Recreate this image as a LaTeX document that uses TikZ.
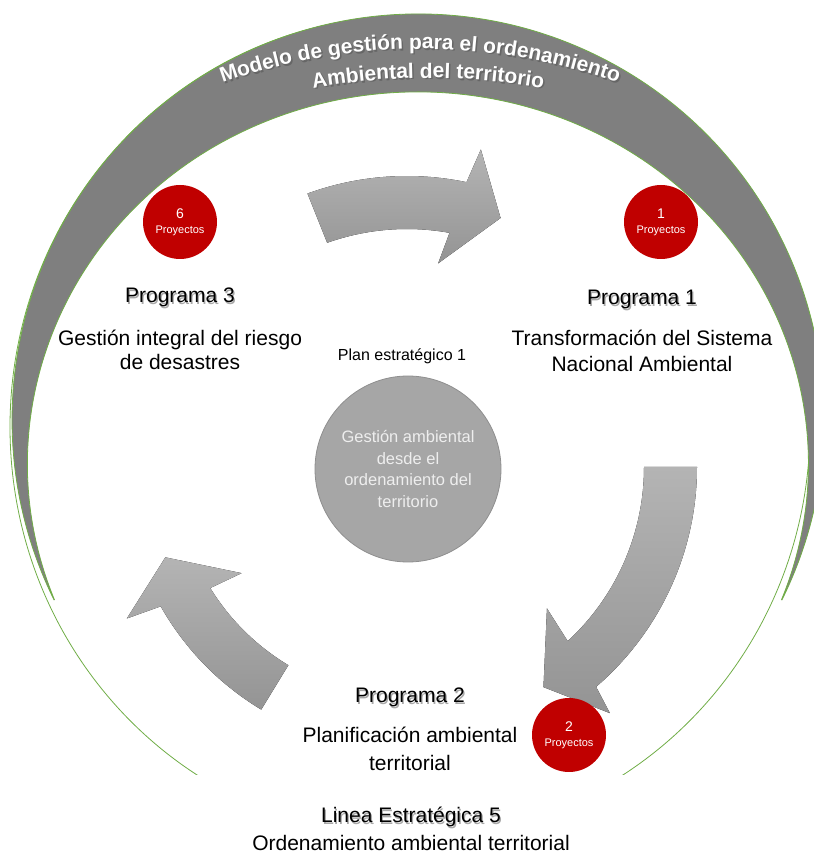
\documentclass[tikz,border=0pt]{standalone}
\usepackage{fontspec}
\setmainfont{Liberation Sans}
\usepackage{xcolor}
\usepackage{tikz}
\usetikzlibrary{positioning,decorations.text}
\definecolor{ringgray}{HTML}{7F7F7F}
\definecolor{ringgreen}{HTML}{70AD47}
\definecolor{projred}{HTML}{C00000}
\definecolor{coregray}{HTML}{A6A6A6}
\definecolor{coreedge}{HTML}{8F8F8F}
\definecolor{coretext}{HTML}{EEEEEE}
\definecolor{arrowtop}{HTML}{B4B4B4}
\definecolor{arrowbot}{HTML}{949494}
\definecolor{shadowgray}{HTML}{A8A8A8}
\newcommand{\shtext}[1]{\rlap{\kern1.2pt\raisebox{-1.2pt}{\color{shadowgray}#1}}#1}
\newcommand{\titlefont}{\fontsize{21}{24}\selectfont\bfseries}
\newcommand{\numfont}{\fontsize{14}{15}\selectfont}
\tikzset{
  ring/.style={draw=ringgreen,line width=.8pt},
  bigarrow/.style={top color=arrowtop,bottom color=arrowbot,draw=none},
  titlearc/.style={decorate,decoration={text along path,text align=center,text color=#1}},
  projcircle/.style={
    circle,fill=projred,text=white,minimum size=74pt,inner sep=0pt,
    align=center,font=\fontsize{11}{15}\selectfont
  },
  progtitle/.style={inner sep=0pt,anchor=base,font=\fontsize{21}{24}\selectfont},
  progdesc/.style={inner sep=0pt,align=center,font=\fontsize{21}{#1}\selectfont},
  plantext/.style={inner sep=0pt,anchor=base,font=\fontsize{16}{18}\selectfont},
  core/.style={
    circle,fill=coregray,draw=coreedge,line width=.8pt,minimum size=186pt,
    inner sep=0pt,align=center,text=coretext,font=\fontsize{16.5}{21.7}\selectfont
  }
}

\begin{document}
\begin{tikzpicture}[x=1pt,y=1pt]
\useasboundingbox (0,0) rectangle (814,855);

% green circle of the model
\begin{scope}
\clip (0,80) rectangle (814,855);
\draw[ring] (410,428) ellipse [x radius=400,y radius=411];
\end{scope}

% gray crescent
\filldraw[ring,fill=ringgray] (418,435) ++(-26.3:406) arc[start angle=-26.3,end angle=206.3,radius=406]
  -- (54.4,255.3) arc[start angle=201.4,end angle=-21.4,x radius=390.5,y radius=372] -- cycle;

% curved title, shadow first
\path[titlearc=black!60,decoration={text={|\titlefont|Modelo de gestión para el ordenamiento}}]
  (421.5,214.5) ++(114:590) arc[start angle=114,end angle=66,radius=590];
\path[titlearc=white,decoration={text={|\titlefont|Modelo de gestión para el ordenamiento}}]
  (420,216) ++(114:590) arc[start angle=114,end angle=66,radius=590];
\path[titlearc=black!60,decoration={text={|\titlefont|Ambiental del territorio}}]
  (429.5,125.5) ++(103:650) arc[start angle=103,end angle=77,radius=650];
\path[titlearc=white,decoration={text={|\titlefont|Ambiental del territorio}}]
  (428,127) ++(103:650) arc[start angle=103,end angle=77,radius=650];

% cycle arrows
\begin{scope}[shift={(407,388)}]
\fill[bigarrow] (110:291) arc[start angle=110,end angle=78.2,radius=291]
  -- (76.9:326) -- (69.4:266) -- (81.3:206) -- (79.7:238)
  arc[start angle=79.7,end angle=109.6,radius=238] -- cycle;
\fill[bigarrow] (0:290) arc[start angle=0,end angle=-49.3,radius=290]
  -- (-50.5:319) -- (-58.2:259) -- (-45.3:199) -- (-47.3:237)
  arc[start angle=-47.3,end angle=0,radius=237] -- cycle;
\fill[bigarrow] (-121:283) arc[start angle=-121,end angle=-150.5,radius=283]
  -- (-151.6:318.5) -- (-159.5:258) -- (-147.3:196.5) -- (-148.4:231)
  arc[start angle=-148.4,end angle=-120.9,radius=231] -- cycle;
\end{scope}

\node[core] (core) at (408,386) {Gestión ambiental\\desde el\\ordenamiento del\\territorio};
\node[plantext] (plan) at (402,494) {Plan estratégico 1};

\node[projcircle] (proj3) at (180,633) {{\numfont 6}\\Proyectos};
\node[projcircle] (proj1) at (661,633) {{\numfont 1}\\Proyectos};
\node[projcircle] (proj2) at (569,120) {{\numfont 2}\\Proyectos};

\node[progtitle] (prog3) at (180,552) {\shtext{Programa 3}};
\node[progdesc=24,below=21pt of prog3] (desc3) {Gestión integral del riesgo\\de desastres};
\node[progtitle] (prog1) at (642,550) {\shtext{Programa 1}};
\node[progdesc=26,below=19pt of prog1] (desc1) {Transformación del Sistema\\Nacional Ambiental};
\node[progtitle] (prog2) at (410,152) {\shtext{Programa 2}};
\node[progdesc=28,below=18pt of prog2] (desc2) {Planificación ambiental\\territorial};

\node[progtitle] (linea) at (411,32) {\shtext{Linea Estratégica 5}};
\node[progdesc=24,below=6pt of linea] (ordam) {Ordenamiento ambiental territorial};
\end{tikzpicture}
\end{document}
